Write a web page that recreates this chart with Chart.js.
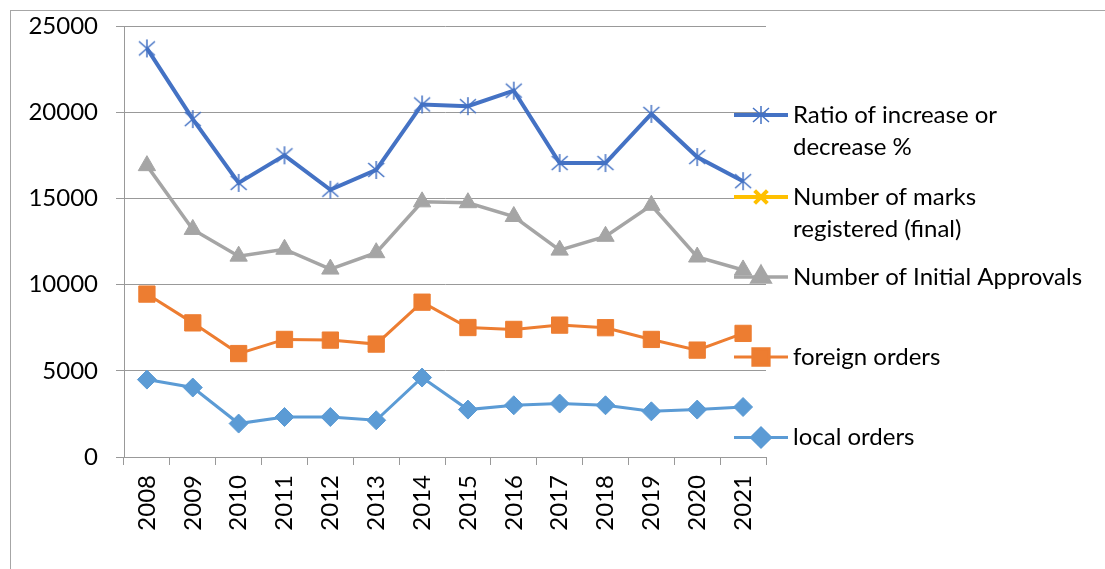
<!DOCTYPE html>
<html>
<head>
<meta charset="utf-8">
<script src="https://cdn.jsdelivr.net/npm/chart.js@4.4.1/dist/chart.umd.min.js"></script>
<style>
  html, body { margin: 0; padding: 0; background: #fff; }
  #wrap { width: 1105px; height: 569px; overflow: hidden; }
</style>
</head>
<body>
<div id="wrap"><canvas id="myChart" width="1105" height="569"></canvas></div>
<script>
// anni sull'asse x
const years = ["2008", "2009", "2010", "2011", "2012", "2013", "2014", "2015", "2016", "2017", "2018", "2019", "2020", "2021"];

// valori
const ratioChange = [23700, 19600, 15900, 17500, 15500, 16650, 20450, 20350, 21250, 17050, 17050, 19900, 17400, 16000];
const marksRegistered = [null, null, null, null, null, null, null, null, null, null, null, null, null, null];
const initialApprovals = [16900, 13200, 11650, 12050, 10900, 11850, 14800, 14750, 13950, 12000, 12800, 14600, 11600, 10850];
const foreignOrders = [9450, 7780, 6000, 6820, 6780, 6550, 8980, 7510, 7400, 7650, 7500, 6820, 6200, 7170];
const localOrders = [4490, 4030, 1940, 2320, 2320, 2130, 4610, 2750, 3000, 3100, 3000, 2650, 2750, 2900];

const yTicks = [0, 5000, 10000, 15000, 20000, 25000];

// testo della legenda (già spezzato su più righe)
const legendLines = [
  ["Ratio of increase or", "decrease %"],
  ["Number of marks", "registered (final)"],
  ["Number of Initial Approvals"],
  ["foreign orders"],
  ["local orders"]
];

const fontFamily = "Lato, 'Liberation Sans', sans-serif";
const fontSize = 24;

// marker a stella tipo Excel (verticale + X)
function makeStar(color) {
  const c = document.createElement("canvas");
  c.width = 20;
  c.height = 20;
  const g = c.getContext("2d");
  g.strokeStyle = color;
  g.lineWidth = 1.5;
  g.beginPath();
  g.moveTo(10, 1); g.lineTo(10, 19);
  g.moveTo(2, 3); g.lineTo(18, 17);
  g.moveTo(18, 3); g.lineTo(2, 17);
  g.stroke();
  return c;
}
const starIcon = makeStar("#4472C4");

// cornice esterna e sfondo bianco
const frame = {
  id: "frame",
  beforeDraw(chart) {
    const ctx = chart.ctx;
    ctx.save();
    ctx.fillStyle = "#fff";
    ctx.fillRect(0, 0, chart.width, chart.height);
    ctx.strokeStyle = "#A6A6A6";
    ctx.lineWidth = 1;
    ctx.strokeRect(10.5, 10.5, 1200, 700);
    ctx.restore();
  }
};

// legenda disegnata a mano, a destra
const legendY = [115, 197, 277, 357, 437.5];
const sideLegend = {
  id: "sideLegend",
  afterDraw(chart) {
    const ctx = chart.ctx;
    chart.data.datasets.forEach((ds, i) => {
      const y = legendY[i];
      ctx.save();
      ctx.strokeStyle = ds.borderColor;
      ctx.lineWidth = ds.borderWidth;
      ctx.beginPath();
      ctx.moveTo(734, y);
      ctx.lineTo(788, y);
      ctx.stroke();
      ctx.fillStyle = ds.pointBackgroundColor;
      ctx.strokeStyle = ds.borderColor;
      Chart.helpers.drawPoint(ctx, {
        pointStyle: ds.pointStyle,
        radius: ds.pointRadius,
        rotation: 0,
        borderWidth: ds.pointBorderWidth
      }, 761, y);
      ctx.fillStyle = "#000";
      ctx.font = fontSize + "px " + fontFamily;
      ctx.textBaseline = "middle";
      ctx.textAlign = "left";
      legendLines[i].forEach((t, k) => ctx.fillText(t, 793, y + k * 32));
      ctx.restore();
    });
  }
};

function serie(data, color, style, radius, width) {
  return {
    data: data,
    borderColor: color,
    backgroundColor: color,
    pointBackgroundColor: color,
    pointBorderColor: color,
    pointStyle: style,
    pointRadius: radius,
    pointHoverRadius: radius,
    pointBorderWidth: 1,
    borderWidth: width,
    tension: 0
  };
}

Chart.defaults.color = "#000";
Chart.defaults.font.family = fontFamily;

new Chart(document.getElementById("myChart"), {
  type: "line",
  data: {
    labels: years,
    datasets: [
      serie(ratioChange, "#4472C4", starIcon, 9, 4),
      serie(marksRegistered, "#FFC000", "crossRot", 9, 4),
      serie(initialApprovals, "#A5A5A5", "triangle", 10, 3.5),
      serie(foreignOrders, "#ED7D31", "rect", 11.5, 3),
      serie(localOrders, "#5B9BD5", "rectRot", 9.5, 3)
    ]
  },
  options: {
    responsive: false,
    animation: false,
    layout: { padding: { top: 26, right: 339, left: 0, bottom: 0 } },
    plugins: {
      legend: { display: false },
      tooltip: { enabled: false }
    },
    scales: {
      x: {
        offset: true,
        grid: { offset: true, drawOnChartArea: false, drawTicks: true, tickLength: 8, color: "#999" },
        border: { color: "#999" },
        ticks: { minRotation: 90, maxRotation: 90, padding: 10, font: { size: fontSize } },
        afterFit(scale) {
          scale.height = 112;
          scale.paddingLeft = 0;
          scale.paddingRight = 0;
        }
      },
      y: {
        min: 0,
        max: 25000,
        afterBuildTicks(scale) { scale.ticks = yTicks.map(v => ({ value: v })); },
        grid: { color: "#999", tickLength: 8 },
        border: { color: "#999" },
        ticks: { padding: 18, font: { size: fontSize }, callback: v => String(v) },
        afterFit(scale) {
          scale.width = 124;
          scale.paddingTop = 0;
          scale.paddingBottom = 0;
        }
      }
    }
  },
  plugins: [frame, sideLegend]
});
</script>
</body>
</html>
